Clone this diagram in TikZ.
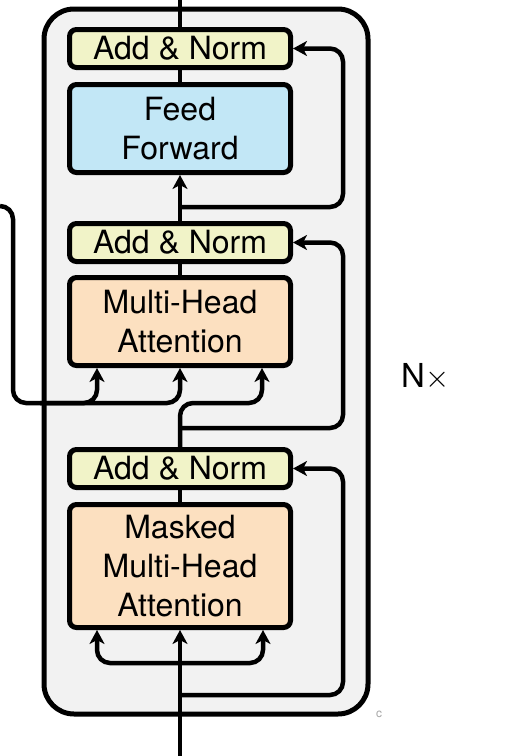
\documentclass[tikz,border=0pt]{standalone}
\usepackage{fontspec}
\setmainfont{TeX Gyre Heros}
\usetikzlibrary{arrows.meta}
\definecolor{normc}{RGB}{241,243,200}
\definecolor{ffc}{RGB}{194,231,246}
\definecolor{attc}{RGB}{252,224,192}
\definecolor{bgc}{RGB}{242,242,242}
\begin{document}
\begin{tikzpicture}[x=1pt,y=-1pt,
  blk/.style={draw, line width=5pt, rounded corners=7pt, minimum width=221pt, align=center, font=\fontsize{32}{39}\selectfont, inner sep=0pt},
  normbox/.style={blk, fill=normc, minimum height=38pt},
  conn/.style={line width=4.5pt},
  arr/.style={conn, -{Stealth[length=14pt,width=15pt,inset=4pt]}},
  rc/.style={rounded corners=13pt}]
\useasboundingbox (0,0) rectangle (507,756);
% outer layer box
\node[draw, line width=5pt, fill=bgc, rounded corners=30pt, minimum width=324pt, minimum height=705pt, inner sep=0pt] (stack) at (206,361.5) {};
% blocks
\node[normbox] (an1) at (180,48.5) {Add \& Norm};
\node[blk, fill=ffc, minimum height=88pt] (ff) at (180,128.5) {Feed\\Forward};
\node[normbox] (an2) at (180,242.5) {Add \& Norm};
\node[blk, fill=attc, minimum height=88pt] (mha) at (180,321.5) {Multi-Head\\Attention};
\node[normbox] (an3) at (180,468.5) {Add \& Norm};
\node[blk, fill=attc, minimum height=123pt] (mmha) at (180,566) {Masked\\Multi-Head\\Attention};
\node[anchor=base west, font=\fontsize{33}{40}\selectfont, inner sep=0pt] (nx) at (401,387) {N\scalebox{1.25}{$\times$}};
\node[anchor=base west, text=gray!70, font=\fontsize{12}{12}\selectfont, inner sep=0pt] (cmark) at (376,717) {c};
% coordinates
\coordinate (top) at (180,0);
\coordinate (bot) at (180,756);
\coordinate (enc) at (0,206);
% main flow
\draw[conn] (an1.north) -- (top);
\draw[conn] (an1.south) -- (ff.north);
\draw[arr] (an2.north) -- (ff.south);
\draw[conn] (an2.south) -- (mha.north);
\draw[conn] (an3.south) -- (mmha.north);
\draw[arr] (bot) -- (mmha.south);
% masked attention inputs
\draw[arr,rc] (180,663) -- (97,663) -- ([xshift=-83pt]mmha.south);
\draw[arr,rc] (180,663) -- (263,663) -- ([xshift=83pt]mmha.south);
% multi-head attention inputs
\draw[arr,rc] (an3.north) -- (180,403) -- (262,403) -- ([xshift=82pt]mha.south);
\draw[arr,rc] (enc) -- (13,206) -- (13,403) -- (180,403) -- (mha.south);
\draw[arr,rc] (40,403) -- (97,403) -- ([xshift=-83pt]mha.south);
% residual connections
\draw[arr,rc] (180,207) -- (343,207) -- (343,48.5) -- (an1.east);
\draw[arr,rc] (180,428) -- (343,428) -- (343,242.5) -- (an2.east);
\draw[arr,rc] (180,695) -- (343,695) -- (343,468.5) -- (an3.east);
\end{tikzpicture}
\end{document}
